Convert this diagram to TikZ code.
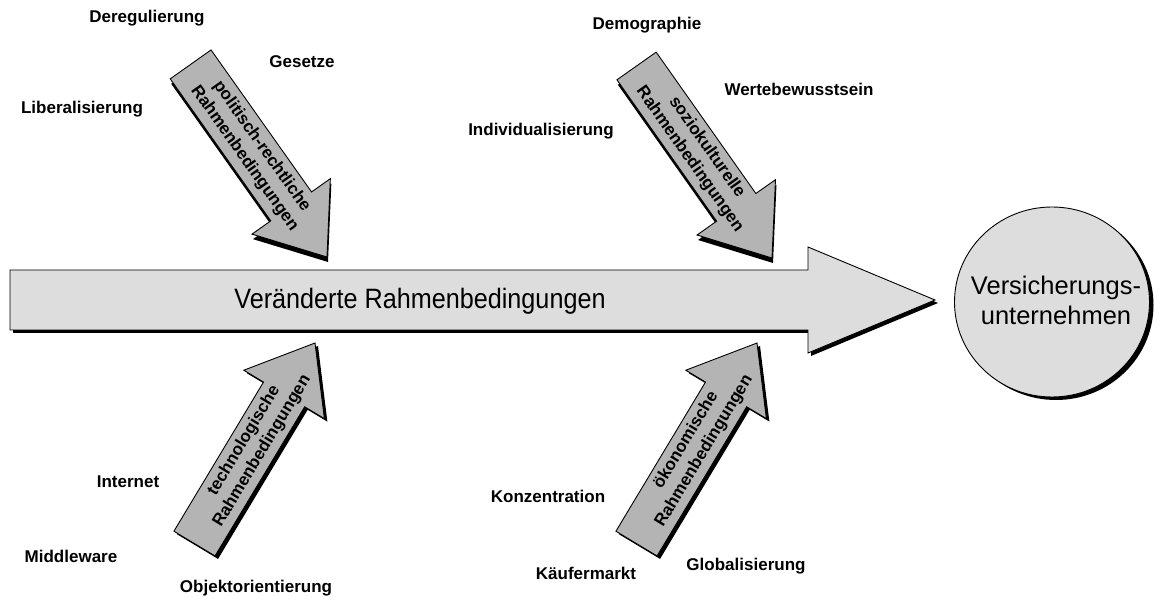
\documentclass[tikz,border=0pt]{standalone}
\usepackage{fontspec}
\setmainfont{Liberation Sans}
\definecolor{sidegray}{RGB}{180,180,180}
\definecolor{palegray}{RGB}{221,221,221}
% block arrow pointing along +x with its tip at the origin:
% #1 total length, #2 head length, #3 head half-width, #4 shaft half-width
\newcommand\blockarrowpath[4]{(0,0) -- (-#2,#3) -- (-#2,#4) -- (-#1,#4) -- (-#1,-#4) -- (-#2,-#4) -- (-#2,-#3) -- cycle}
\begin{document}
\begin{tikzpicture}[x=1pt,y=1pt,
  outline/.style={draw=black, line width=0.9pt, line join=miter},
  dropshadow/.style={fill=black},
  sidebody/.style={outline, fill=sidegray},
  mainbody/.style={outline, fill=palegray},
  lbl/.style={font=\fontsize{17}{20}\selectfont\bfseries, inner sep=0pt},
  arrowtxt/.style={font=\fontsize{17}{21}\selectfont\bfseries, align=center, inner sep=0pt, transform shape}]
\useasboundingbox (0,0) rectangle (1160,600);

% ---- central arrow ----
\fill[dropshadow] (13,267) -- (811,267) -- (811,244) -- (938,297) -- (811,350) -- (811,327) -- (13,327) -- cycle;
\path[mainbody] (10,270) -- (808,270) -- (808,247) -- (935,300) -- (808,353) -- (808,330) -- (10,330) -- cycle;
\node[inner sep=0pt] (main) at (420,299) {\scalebox{0.9}[1]{\fontsize{28}{32}\selectfont Veränderte Rahmenbedingungen}};

% ---- target ----
\fill[dropshadow] (1056,295) ellipse [x radius=97.5, y radius=95];
\path[mainbody] (1052,298) ellipse [x radius=97.5, y radius=95];
\node[inner sep=0pt, align=center, font=\fontsize{25.5}{30}\selectfont] (vu) at (1056,299.5) {Versicherungs-\\unternehmen};

% ---- upper side arrows (pointing down-right) ----
\begin{scope}[shift={(328,338)}, rotate=-54.7]
  \fill[dropshadow] \blockarrowpath{236}{62}{48}{25};
\end{scope}
\begin{scope}[shift={(327,343)}, rotate=-54.7]
  \path[sidebody] \blockarrowpath{236}{62}{48}{25};
  \node[arrowtxt] (pol) at (-128,0) {politisch-rechtliche\\Rahmenbedingungen};
\end{scope}

\begin{scope}[shift={(773,337)}, rotate=-54.8]
  \fill[dropshadow] \blockarrowpath{235}{62}{48}{24};
\end{scope}
\begin{scope}[shift={(772,342)}, rotate=-54.8]
  \path[sidebody] \blockarrowpath{235}{62}{48}{24};
  \node[arrowtxt] (soz) at (-128,0) {soziokulturelle\\Rahmenbedingungen};
\end{scope}

% ---- lower side arrows (pointing up-right) ----
\begin{scope}[shift={(318,254)}, rotate=59]
  \fill[dropshadow] \blockarrowpath{234}{60}{47}{24};
\end{scope}
\begin{scope}[shift={(315,257)}, rotate=59]
  \path[sidebody] \blockarrowpath{234}{60}{47}{24};
  \node[arrowtxt] (tec) at (-120,0) {technologische\\Rahmenbedingungen};
\end{scope}

\begin{scope}[shift={(760,254)}, rotate=59]
  \fill[dropshadow] \blockarrowpath{234}{60}{47}{24};
\end{scope}
\begin{scope}[shift={(757,257)}, rotate=59]
  \path[sidebody] \blockarrowpath{234}{60}{47}{24};
  \node[arrowtxt] (oek) at (-120,0) {ökonomische\\Rahmenbedingungen};
\end{scope}

% ---- influencing factors ----
\node[lbl] (dereg) at (147,582) {Deregulierung};
\node[lbl] (gesetze) at (302,538) {Gesetze};
\node[lbl] (liberal) at (82,491) {Liberalisierung};
\node[lbl] (demo) at (647,575) {Demographie};
\node[lbl] (werte) at (799,511) {Wertebewusstsein};
\node[lbl] (indiv) at (541,469) {Individualisierung};
\node[lbl] (internet) at (128,118) {Internet};
\node[lbl] (middle) at (71,44) {Middleware};
\node[lbl] (objekt) at (256,12) {Objektorientierung};
\node[lbl] (konz) at (548,104) {Konzentration};
\node[lbl] (kaeufer) at (586,27) {Käufermarkt};
\node[lbl] (global) at (746,34) {Globalisierung};
\end{tikzpicture}
\end{document}
